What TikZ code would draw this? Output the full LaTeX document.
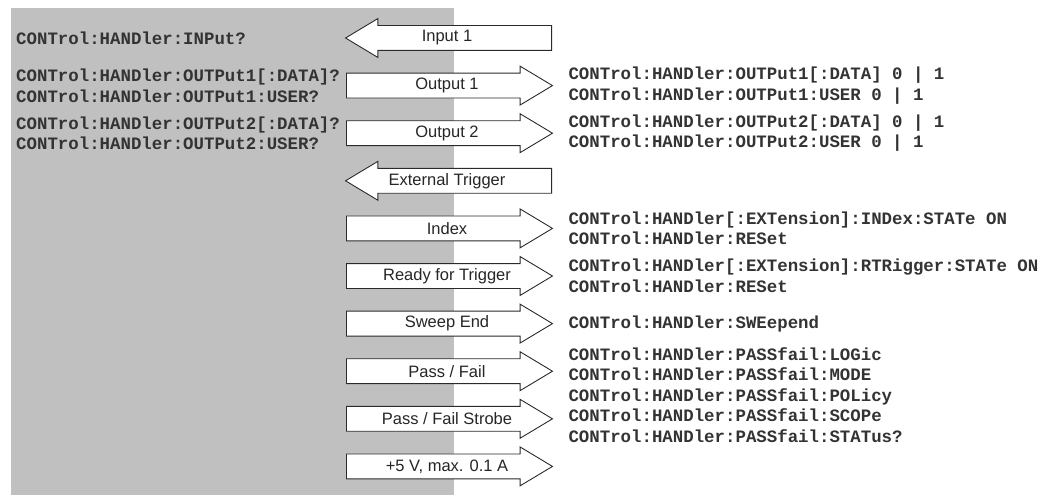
\documentclass[tikz,border=0pt]{standalone}
\usepackage{fontspec}
\setmainfont{Liberation Sans}
\setmonofont{Liberation Mono}
\usetikzlibrary{shapes.arrows, positioning, calc}
\definecolor{panelgray}{HTML}{C0C0C0}
\definecolor{cmdgray}{HTML}{333333}
\definecolor{edgegray}{HTML}{2A2A2A}

\begin{document}
\begin{tikzpicture}[
    x=1pt, y=-1pt,
    sigarrow/.style={
        single arrow, draw=edgegray, line width=0.9pt, fill=white,
        minimum height=206pt, minimum width=38pt,
        single arrow head extend=7pt, single arrow tip angle=62,
        text height=12pt, text depth=4pt, inner xsep=2pt, inner ysep=4pt,
        anchor=tail
    },
    siglabel/.style={
        font=\fontsize{16.5}{18}\selectfont, text=black!85, inner sep=0pt
    },
    cmdtext/.style={
        font=\ttfamily\bfseries\fontsize{17.4}{20.5}\selectfont, text=cmdgray,
        align=left, inner sep=0pt, anchor=west
    },
]

% === Frame and gray panel ===
\useasboundingbox (0,0) rectangle (1045,495);
\fill[panelgray] (11,8) rectangle (454,495);
\coordinate (leftedge) at (16,0);

% === Signal arrows ===
\foreach \n/\lbl/\rot/\tx [count=\k from 0] in {
    input/Input 1/180/552, out1/Output 1/0/346, out2/Output 2/0/346,
    exttrig/External Trigger/180/552, index/Index/0/346,
    rtrig/Ready for Trigger/0/346, sweep/Sweep End/0/346,
    pf/{Pass / Fail}/0/346, pfstrobe/{Pass / Fail Strobe}/0/346,
    pwr/{+5 V, max. 0.1 A}/0/346} {
    \node[sigarrow, shape border rotate=\rot] (\n) at (\tx, 38+47.6*\k) {};
    \node[siglabel] (\n-lbl) at (447, 38+47.6*\k) {\lbl};
}

% === Query commands (left) ===
\node[cmdtext] (qin) at (input.center -| leftedge) {CONTrol:HANDler:INPut?};
\node[cmdtext] (qout1) at (out1.center -| leftedge)
    {CONTrol:HANDler:OUTPut1[:DATA]?\\CONTrol:HANDler:OUTPut1:USER?};
\node[cmdtext] (qout2) at (out2.center -| leftedge)
    {CONTrol:HANDler:OUTPut2[:DATA]?\\CONTrol:HANDler:OUTPut2:USER?};

% === Setting commands (right) ===
\node[cmdtext, right=15pt of out1.tip] (sout1)
    {CONTrol:HANDler:OUTPut1[:DATA] 0 | 1\\CONTrol:HANDler:OUTPut1:USER 0 | 1};
\node[cmdtext, right=15pt of out2.tip] (sout2)
    {CONTrol:HANDler:OUTPut2[:DATA] 0 | 1\\CONTrol:HANDler:OUTPut2:USER 0 | 1};
\node[cmdtext, right=15pt of index.tip] (sindex)
    {CONTrol:HANDler[:EXTension]:INDex:STATe ON\\CONTrol:HANDler:RESet};
\node[cmdtext, right=15pt of rtrig.tip] (srtrig)
    {CONTrol:HANDler[:EXTension]:RTRigger:STATe ON\\CONTrol:HANDler:RESet};
\node[cmdtext, right=15pt of sweep.tip] (ssweep) {CONTrol:HANDler:SWEepend};

% Pass / fail block sits between the two pass / fail arrows
\coordinate (pfmid) at ($(pf.tip)!0.5!(pfstrobe.tip)$);
\node[cmdtext, right=15pt of pfmid] (spf)
    {CONTrol:HANDler:PASSfail:LOGic\\CONTrol:HANDler:PASSfail:MODE\\%
     CONTrol:HANDler:PASSfail:POLicy\\CONTrol:HANDler:PASSfail:SCOPe\\%
     CONTrol:HANDler:PASSfail:STATus?};

\end{tikzpicture}
\end{document}
